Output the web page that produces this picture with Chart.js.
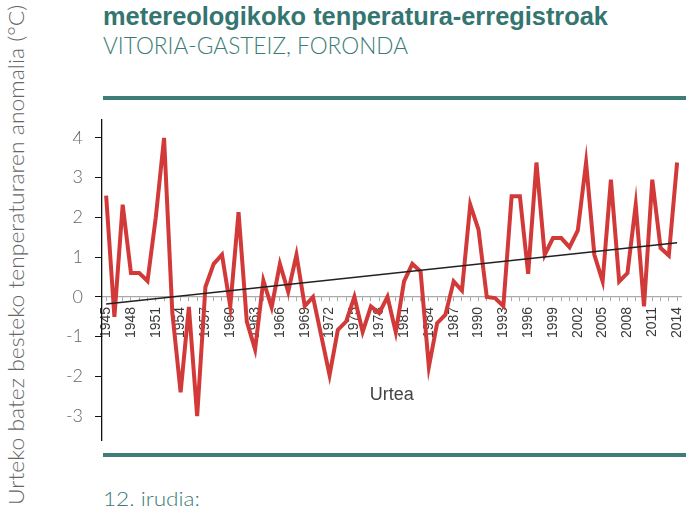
<!DOCTYPE html>
<html>
<head>
<meta charset="utf-8">
<script src="https://cdn.jsdelivr.net/npm/chart.js@4"></script>
<style>
  html, body { margin: 0; padding: 0; background: #fff; }
  body { width: 700px; height: 507px; position: relative; overflow: hidden; }
  #wrap { position: absolute; left: 0; top: 0; width: 700px; height: 507px; }
  .txt { position: absolute; white-space: nowrap; color: #3a7c77; transform-origin: 0 0; line-height: 1; }
  #title { left: 103px; top: 1px; font: bold 26px "Liberation Sans", Arial, sans-serif; color: #347570; }
  #subtitle { left: 103px; top: 30px; font: 300 24px Lato, "Liberation Sans", sans-serif; }
  #caption { left: 103px; top: 487px; font: 300 19px Lato, "Liberation Sans", sans-serif; }
  .rule { position: absolute; left: 103px; width: 583px; height: 4px; background: #3d7e79; }
  #ytitle { position: absolute; left: -236px; top: 243px; width: 500px; height: 24px;
            transform: rotate(-90deg); }
  #ytitle span { display: inline-block; white-space: nowrap; transform-origin: 0 0; line-height: 24px;
                 font: 300 22px Lato, "Liberation Sans", sans-serif; color: #666; }
</style>
</head>
<body>
<div class="txt" id="title">metereologikoko tenperatura-erregistroak</div>
<div class="txt" id="subtitle">VITORIA-GASTEIZ, FORONDA</div>
<div class="rule" style="top:96px"></div>
<div class="rule" style="top:453px"></div>
<div class="txt" id="caption">12. irudia:</div>
<div id="ytitle"><span>Urteko batez besteko tenperaturaren anomalia (°C)</span></div>
<div id="wrap"><canvas id="myChart" width="700" height="507"></canvas></div>
<script>
const years = [
    1945, 1946, 1947, 1948, 1949, 1950, 1951, 1952, 1953, 1954,
    1955, 1956, 1957, 1958, 1959, 1960, 1961, 1962, 1963, 1964,
    1965, 1966, 1967, 1968, 1969, 1970, 1971, 1972, 1973, 1974,
    1975, 1976, 1977, 1978, 1979, 1980, 1981, 1982, 1983, 1984,
    1985, 1986, 1987, 1988, 1989, 1990, 1991, 1992, 1993, 1994,
    1995, 1996, 1997, 1998, 1999, 2000, 2001, 2002, 2003, 2004,
    2005, 2006, 2007, 2008, 2009, 2010, 2011, 2012, 2013, 2014
]
const anomaly = [
    2.55, -0.5, 2.32, 0.6, 0.6, 0.4, 2.0, 4.0, -0.4, -2.4,
    -0.25, -3.0, 0.25, 0.83, 1.06, -0.24, 2.13, -0.62, -1.32, 0.41,
    -0.26, 0.83, 0.13, 1.06, -0.23, 0.0, -0.98, -1.97, -0.83, -0.62,
    0.0, -0.88, -0.24, -0.41, 0.0, -0.89, 0.39, 0.83, 0.64, -1.76,
    -0.66, -0.45, 0.39, 0.16, 2.32, 1.69, 0.0, -0.03, -0.23, 2.53,
    2.53, 0.58, 3.38, 1.06, 1.48, 1.48, 1.25, 1.67, 3.38, 1.06,
    0.39, 2.95, 0.39, 0.6, 2.32, -0.24, 2.95, 1.23, 1.04, 3.38
]
// linear trend, read at both ends
const trendYears = [1945, 2014]
const trendValues = [-0.18, 1.36]

const yearLabels = [1945, 1948, 1951, 1954, 1957, 1960, 1963, 1966, 1969, 1972, 1975, 1978, 1981, 1984, 1987, 1990, 1993, 1996, 1999, 2002, 2005, 2008, 2011, 2014]
const yTicks = [-3, -2, -1, 0, 1, 2, 3, 4]

// squeeze/stretch the html texts to the widths seen in the picture
function fitWidth(el, w) {
    const nat = el.getBoundingClientRect().width
    el.style.transform = `scaleX(${w / nat})`
}
fitWidth(document.getElementById('title'), 505)
fitWidth(document.getElementById('subtitle'), 305)
fitWidth(document.getElementById('caption'), 97)
const ySpan = document.querySelector('#ytitle span')
const ySpanW = ySpan.offsetWidth
ySpan.style.transform = `translateX(${(500 - 500) / 2}px) scaleX(${500 / ySpanW})`

const myChart = new Chart(
    document.getElementById('myChart'),
    {
        type: 'line',
        data: {
            datasets: [
                {
                    label: 'Anomalia',
                    data: years.map((y, i) => ({ x: y, y: anomaly[i] })),
                    borderColor: '#d23a3a',
                    borderWidth: 4,
                    pointRadius: 0,
                    tension: 0,
                    order: 2
                },
                {
                    label: 'Joera',
                    data: trendYears.map((y, i) => ({ x: y, y: trendValues[i] })),
                    borderColor: '#222',
                    borderWidth: 1.5,
                    pointRadius: 0,
                    order: 1
                }
            ]
        },
        options: {
            responsive: false,
            animation: false,
            layout: { padding: { left: 62, top: 120, right: 12, bottom: 67 } },
            plugins: {
                legend: { display: false },
                tooltip: { enabled: false }
            },
            scales: {
                x: {
                    type: 'linear',
                    position: { y: 0 },
                    min: 1944.5,
                    max: 2014.55,
                    afterBuildTicks: (scale) => { scale.ticks = years.map(v => ({ value: v })) },
                    grid: { drawOnChartArea: false, tickLength: 4, color: '#aaa' },
                    border: { color: '#aaa', width: 1.2 },
                    ticks: {
                        autoSkip: false,
                        minRotation: 90,
                        maxRotation: 90,
                        padding: 6,
                        color: '#3a3a3a',
                        font: { family: 'Liberation Sans', size: 14 },
                        callback: (v) => yearLabels.includes(v) ? String(v) : ''
                    },
                    title: {
                        display: true,
                        text: 'Urtea',
                        color: '#444',
                        font: { family: 'Liberation Sans', size: 18 },
                        padding: { top: 40 }
                    }
                },
                y: {
                    min: -3.6,
                    max: 4.45,
                    afterBuildTicks: (scale) => { scale.ticks = yTicks.map(v => ({ value: v })) },
                    afterFit: (scale) => { scale.width = 40 },
                    grid: { drawOnChartArea: false, tickLength: 7, color: '#111' },
                    border: { color: '#111', width: 1.3 },
                    ticks: {
                        padding: 12,
                        color: '#666',
                        font: { family: 'Lato', size: 18, weight: '300' }
                    }
                }
            }
        }
    });
</script>
</body>
</html>
